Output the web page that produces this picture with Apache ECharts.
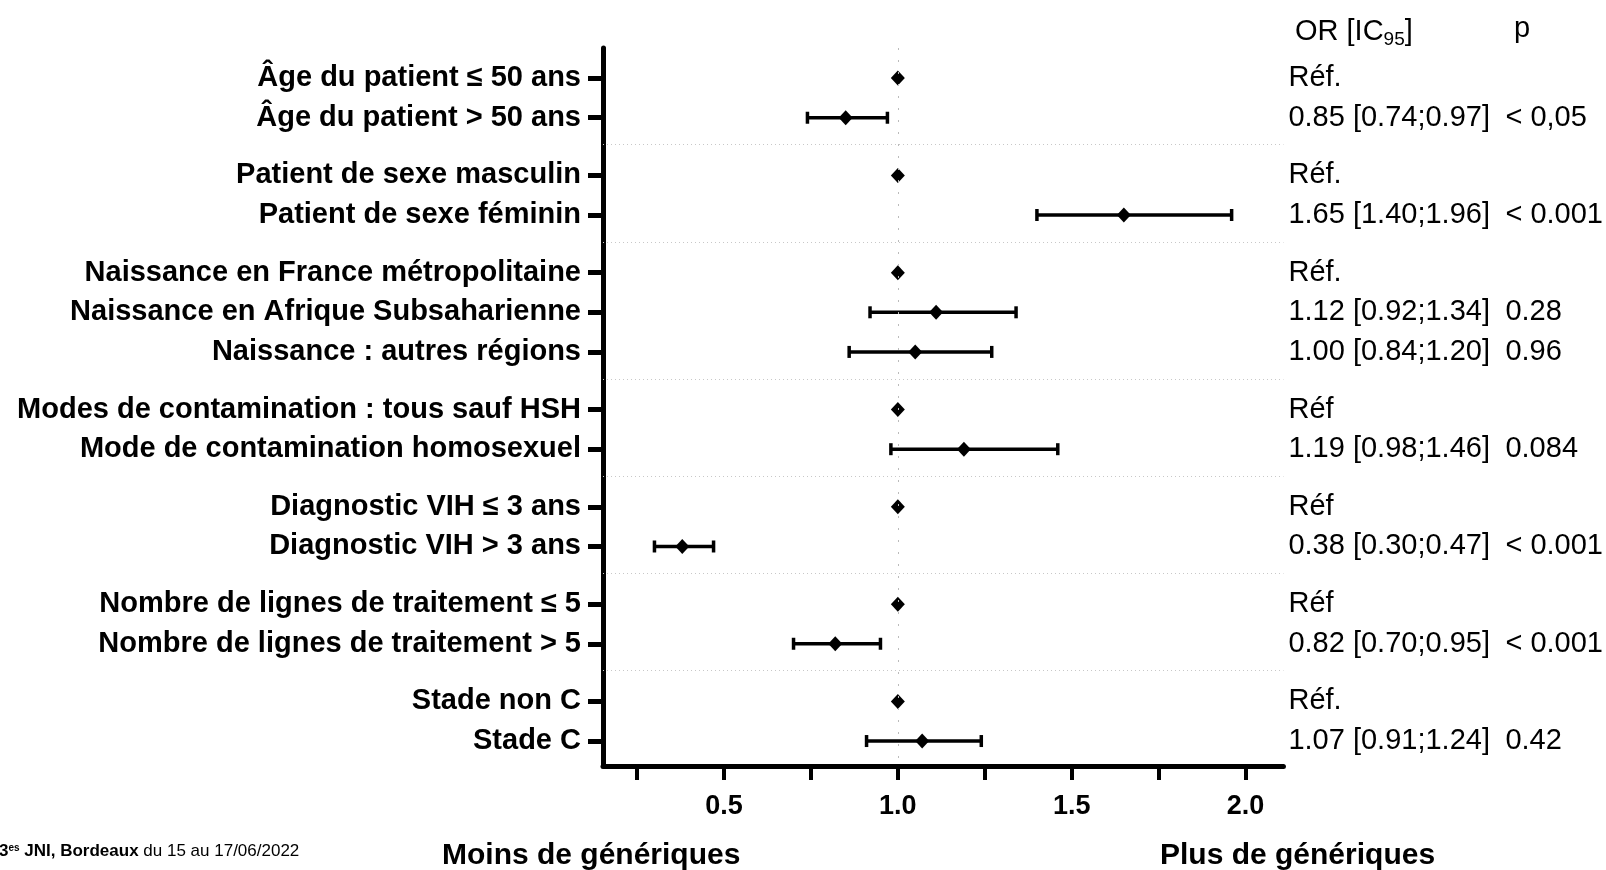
<!DOCTYPE html>
<html>
<head>
<meta charset="utf-8">
<script src="https://cdn.jsdelivr.net/npm/echarts@6/dist/echarts.min.js"></script>
<style>
  html, body { margin: 0; padding: 0; background: #fff; }
  #main { width: 1606px; height: 870px; }
</style>
</head>
<body>
<div id="main"></div>
<script>
  // rows, top to bottom
  var rowLabels = [
    'Âge du patient ≤ 50 ans', 'Âge du patient > 50 ans',
    'Patient de sexe masculin', 'Patient de sexe féminin',
    'Naissance en France métropolitaine', 'Naissance en Afrique Subsaharienne', 'Naissance : autres régions',
    'Modes de contamination : tous sauf HSH', 'Mode de contamination homosexuel',
    'Diagnostic VIH ≤ 3 ans', 'Diagnostic VIH > 3 ans',
    'Nombre de lignes de traitement ≤ 5', 'Nombre de lignes de traitement > 5',
    'Stade non C', 'Stade C'
  ];
  var rowGroup = [0, 0, 1, 1, 2, 2, 2, 3, 3, 4, 4, 5, 5, 6, 6];
  var oddsRatio = [1, 0.85, 1, 1.65, 1, 1.11, 1.05, 1, 1.19, 1, 0.38, 1, 0.82, 1, 1.07];
  var ciLow  = [null, 0.74, null, 1.40, null, 0.92, 0.86, null, 0.98, null, 0.30, null, 0.70, null, 0.91];
  var ciHigh = [null, 0.97, null, 1.96, null, 1.34, 1.27, null, 1.46, null, 0.47, null, 0.95, null, 1.24];
  var orTexts = [
    'Réf.', '0.85 [0.74;0.97]', 'Réf.', '1.65 [1.40;1.96]', 'Réf.', '1.12 [0.92;1.34]',
    '1.00 [0.84;1.20]', 'Réf', '1.19 [0.98;1.46]', 'Réf', '0.38 [0.30;0.47]', 'Réf',
    '0.82 [0.70;0.95]', 'Réf.', '1.07 [0.91;1.24]'
  ];
  var pTexts = ['', '< 0,05', '', '< 0.001', '', '0.28', '0.96', '', '0.084', '', '< 0.001', '', '< 0.001', '', '0.42'];
  var xTicks = [0.25, 0.5, 0.75, 1.0, 1.25, 1.5, 1.75, 2.0];
  var xLabels = [0.5, 1.0, 1.5, 2.0];

  var FONT = '"Liberation Sans", Arial, sans-serif';
  var GAP = 0.455; // extra space between groups, in rows

  // vertical position of each row on the y value axis
  var rowPos = rowLabels.map(function (l, i) { return i + rowGroup[i] * GAP; });
  var sepPos = [];
  for (var i = 1; i < rowPos.length; i++) {
    if (rowGroup[i] !== rowGroup[i - 1]) sepPos.push((rowPos[i] + rowPos[i - 1]) / 2 - 0.05);
  }

  function rowIndex(v) {
    for (var k = 0; k < rowPos.length; k++) if (Math.abs(rowPos[k] - v) < 1e-6) return k;
    return -1;
  }

  var points = oddsRatio.map(function (v, i) { return [v, rowPos[i]]; });
  var bars = [];
  ciLow.forEach(function (lo, i) {
    if (lo != null) bars.push([rowPos[i], lo, ciHigh[i]]);
  });

  var yMin = -0.76, yMax = rowPos[rowPos.length - 1] + 0.63;

  function sideAxis(texts, offset) {
    return {
      type: 'value', inverse: true, min: yMin, max: yMax,
      position: 'right', offset: offset,
      axisLine: { show: false }, axisTick: { show: false }, splitLine: { show: false },
      axisLabel: {
        customValues: rowPos, align: 'left', margin: 5,
        fontFamily: FONT, fontSize: 29, color: '#000',
        formatter: function (v) { var k = rowIndex(v); return k < 0 ? '' : texts[k]; }
      }
    };
  }

  var myChart = echarts.init(document.getElementById('main'));
  var option = {
    animation: false,
    backgroundColor: '#fff',
    title: [
      { text: 'OR [IC{s|95}]', left: 1290, top: 9,
        textStyle: { fontFamily: FONT, fontSize: 29, fontWeight: 'normal', color: '#000',
          rich: { s: { fontFamily: FONT, fontSize: 19, verticalAlign: 'bottom', padding: [16, 0, 0, 0] } } } },
      { text: 'p', left: 1509, top: 9,
        textStyle: { fontFamily: FONT, fontSize: 29, fontWeight: 'normal', color: '#000' } },
      { text: 'Moins de génériques', left: 437, top: 836,
        textStyle: { fontFamily: FONT, fontSize: 30, fontWeight: 'bold', color: '#000' } },
      { text: 'Plus de génériques', left: 1155, top: 836,
        textStyle: { fontFamily: FONT, fontSize: 30, fontWeight: 'bold', color: '#000' } },
      { text: '{b|3}{sup|es} {b|JNI, Bordeaux} du 15 au 17/06/2022', left: -6, top: 838,
        textStyle: { fontFamily: FONT, fontSize: 17, fontWeight: 'normal', color: '#000',
          rich: {
            b: { fontFamily: FONT, fontSize: 17, fontWeight: 'bold' },
            sup: { fontFamily: FONT, fontSize: 10, fontWeight: 'bold', verticalAlign: 'top', padding: [0, 0, 7, 0] }
          } } }
    ],
    grid: { left: 603, right: 319, top: 48, bottom: 104, containLabel: false },
    xAxis: {
      type: 'value', min: 0.152, max: 2.109,
      axisLine: { show: true, onZero: false, lineStyle: { color: '#000', width: 5 } },
      axisTick: { show: true, customValues: xTicks, length: 14, lineStyle: { color: '#000', width: 4 } },
      axisLabel: { customValues: xLabels, margin: 27, fontFamily: FONT, fontSize: 27, fontWeight: 'bold', color: '#000',
        formatter: function (v) { return v.toFixed(1); } },
      splitLine: { show: false }
    },
    yAxis: [
      {
        type: 'value', inverse: true, min: yMin, max: yMax,
        axisLine: { show: true, onZero: false, lineStyle: { color: '#000', width: 5 } },
        axisTick: { show: true, customValues: rowPos, length: 15, lineStyle: { color: '#000', width: 5 } },
        axisLabel: {
          customValues: rowPos, margin: 22,
          fontFamily: FONT, fontSize: 29, fontWeight: 'bold', color: '#000',
          formatter: function (v) { var k = rowIndex(v); return k < 0 ? '' : rowLabels[k]; }
        },
        splitLine: { show: false }
      },
      sideAxis(orTexts, 0),
      sideAxis(pTexts, 217)
    ],
    series: [
      {
        type: 'custom',
        data: bars,
        encode: { x: [1, 2], y: 0 },
        z: 3,
        renderItem: function (params, api) {
          var y = api.value(0);
          var a = api.coord([api.value(1), y]);
          var b = api.coord([api.value(2), y]);
          var st = { stroke: '#000', lineWidth: 3.5 };
          return {
            type: 'group',
            children: [
              { type: 'line', shape: { x1: a[0], y1: a[1], x2: b[0], y2: b[1] }, style: st },
              { type: 'line', shape: { x1: a[0], y1: a[1] - 6, x2: a[0], y2: a[1] + 6 }, style: st },
              { type: 'line', shape: { x1: b[0], y1: b[1] - 6, x2: b[0], y2: b[1] + 6 }, style: st }
            ]
          };
        }
      },
      {
        type: 'scatter',
        data: points,
        symbol: 'diamond',
        symbolSize: [14, 15],
        itemStyle: { color: '#000', opacity: 1 },
        z: 4,
        markLine: {
          silent: true, symbol: 'none', label: { show: false },
          data: [{ xAxis: 1 }],
          lineStyle: { color: '#bbb', width: 1, type: [2, 10] }
        }
      },
      {
        type: 'line',
        data: [],
        markLine: {
          silent: true, symbol: 'none', label: { show: false },
          data: sepPos.map(function (p) { return { yAxis: p }; }),
          lineStyle: { color: '#c8c8c8', width: 1, type: [1, 3] }
        }
      }
    ]
  };
  myChart.setOption(option);
</script>
</body>
</html>
